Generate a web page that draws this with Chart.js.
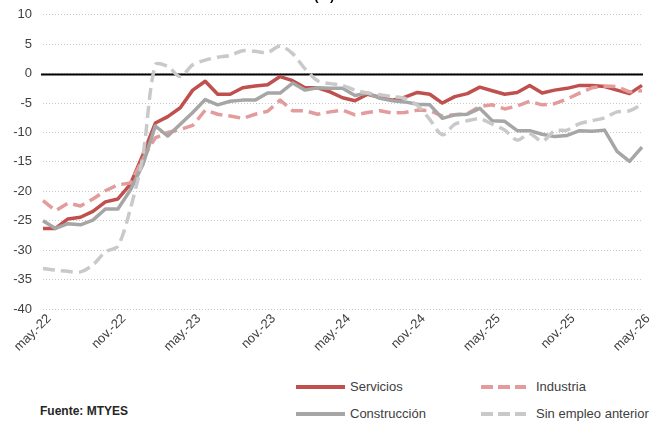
<!DOCTYPE html>
<html><head><meta charset="utf-8">
<script src="https://cdn.jsdelivr.net/npm/chart.js@4"></script>
<style>
html,body{margin:0;padding:0;background:#fff;overflow:hidden;width:661px;height:423px;}
#wrap{position:relative;width:661px;height:423px;overflow:hidden;}
canvas{position:absolute;left:0;top:-4px;}
.t{position:absolute;font-family:"Liberation Sans",Arial,sans-serif;color:#404040;font-size:13px;line-height:16px;white-space:nowrap;}
.ln{position:absolute;height:4px;}
</style></head><body>
<div id="wrap">
<canvas id="c" width="661" height="364"></canvas>
<div class="t" style="left:187px;top:-12px;font-weight:bold;color:#000;">Variación interanual (%)</div>
<div class="ln" style="left:296px;top:385px;width:49px;background:#C0504D;"></div>
<div class="t" style="left:350px;top:379px;">Servicios</div>
<div class="ln" style="left:481px;top:385px;width:45px;background:repeating-linear-gradient(to right,#E39B9B 0 12px,transparent 12px 17px);"></div>
<div class="t" style="left:536px;top:379px;">Industria</div>
<div class="ln" style="left:296px;top:412px;width:49px;background:#A6A6A6;"></div>
<div class="t" style="left:350px;top:406px;">Construcción</div>
<div class="ln" style="left:481px;top:412px;width:45px;background:repeating-linear-gradient(to right,#C9C9C9 0 12px,transparent 12px 17px);"></div>
<div class="t" style="left:536px;top:406px;">Sin empleo anterior</div>
<div class="t" style="left:40px;top:403px;font-weight:bold;font-size:12px;color:#262626;">Fuente: MTYES</div>
</div>
<script>
const months = ["may.-22","jun.-22","jul.-22","ago.-22","sep.-22","oct.-22","nov.-22","dic.-22",
"ene.-23","feb.-23","mar.-23","abr.-23","may.-23","jun.-23","jul.-23","ago.-23","sep.-23","oct.-23","nov.-23","dic.-23",
"ene.-24","feb.-24","mar.-24","abr.-24","may.-24","jun.-24","jul.-24","ago.-24","sep.-24","oct.-24","nov.-24","dic.-24",
"ene.-25","feb.-25","mar.-25","abr.-25","may.-25","jun.-25","jul.-25","ago.-25","sep.-25","oct.-25","nov.-25","dic.-25",
"ene.-26","feb.-26","mar.-26","abr.-26","may.-26"];
const servicios = [-26.3,-26.3,-24.7,-24.4,-23.4,-21.8,-21.3,-18.8,-13.8,-8.4,-7.3,-5.8,-2.8,-1.3,-3.5,-3.5,-2.4,-2.1,-1.9,-0.5,-1.2,-2.4,-2.4,-3.1,-4.1,-4.6,-3.5,-4.0,-4.5,-4.0,-3.2,-3.5,-5.0,-3.9,-3.4,-2.3,-2.9,-3.5,-3.2,-2.0,-3.3,-2.8,-2.5,-2.0,-2.0,-2.2,-2.8,-3.4,-2.0];
const industria = [-21.6,-23.3,-22.0,-22.5,-21.3,-19.9,-18.9,-18.6,-14.5,-10.9,-10.0,-9.5,-8.8,-6.2,-6.9,-7.2,-7.6,-6.9,-6.4,-4.5,-6.3,-6.3,-6.9,-6.5,-6.2,-7.0,-6.6,-6.3,-6.7,-6.6,-6.2,-6.3,-7.2,-7.0,-6.8,-5.6,-5.3,-6.0,-5.5,-4.7,-5.3,-5.1,-4.3,-3.3,-2.4,-2.1,-2.2,-3.1,-2.9];
const construccion = [-25.0,-26.3,-25.5,-25.7,-24.9,-23.0,-23.0,-19.8,-15.5,-8.9,-10.6,-8.6,-6.6,-4.4,-5.3,-4.7,-4.5,-4.5,-3.3,-3.3,-1.6,-2.8,-2.4,-2.5,-2.5,-3.7,-3.3,-4.2,-4.6,-4.8,-5.2,-5.3,-7.6,-7.0,-6.9,-5.9,-8.0,-8.1,-9.7,-9.7,-10.3,-10.7,-10.5,-9.7,-9.8,-9.6,-13.2,-14.9,-12.5];
const sinEmpleo = [-33.1,-33.4,-33.6,-33.7,-32.5,-30.3,-29.3,-23.0,-14.0,1.5,1.2,-0.5,1.5,2.3,2.8,3.1,3.9,3.8,3.6,4.7,3.4,0.8,-1.2,-1.7,-2.0,-2.8,-3.3,-3.6,-3.9,-4.2,-5.4,-7.8,-10.4,-8.6,-8.0,-7.7,-8.6,-9.6,-11.3,-10.2,-11.5,-9.7,-9.6,-8.5,-8.0,-7.5,-6.5,-6.3,-5.2];
const yTicks = {min:-40, max:10, step:5};

const FONT = '"Liberation Sans", Arial, sans-serif';
const zeroLine = {
  id:'zeroLine',
  beforeDatasetsDraw(chart){
    const {ctx, chartArea, scales:{y}} = chart;
    const py = Math.round(y.getPixelForValue(0)) + 0.5;
    ctx.save();
    ctx.strokeStyle = '#000'; ctx.lineWidth = 2;
    ctx.beginPath(); ctx.moveTo(chartArea.left - 2, py); ctx.lineTo(chartArea.right + 1, py); ctx.stroke();
    ctx.restore();
  }
};
new Chart(document.getElementById('c'), {
  type:'line',
  data:{labels:months, datasets:[
    {label:'Servicios', data:servicios, borderColor:'#C0504D', order:3, tension:0},
    {label:'Industria', data:industria, borderColor:'#E39B9B', borderDash:[12,6], order:2, tension:0},
    {label:'Construcción', data:construccion, borderColor:'#A6A6A6', order:1, tension:0},
    {label:'Sin empleo anterior', data:sinEmpleo, borderColor:'#C9C9C9', borderDash:[12,6], order:0, tension:0.3}
  ]},
  options:{
    responsive:false, animation:false, devicePixelRatio:1,
    layout:{padding:{top:9.2, right:19, left:0, bottom:0}},
    plugins:{legend:{display:false}, tooltip:{enabled:false}, title:{display:false}},
    elements:{point:{radius:0}, line:{borderWidth:3.5, borderCapStyle:'butt', borderJoinStyle:'round', fill:false}},
    scales:{
      x:{type:'category', offset:false, grid:{display:false, drawTicks:false}, border:{display:false},
        ticks:{autoSkip:false, maxRotation:45, minRotation:45, padding:2, labelOffset:6, color:'#404040', font:{family:FONT, size:13},
          callback:(v,i)=> i%6===0 ? months[i] : ''},
        afterFit(s){ s.height = 364 - 313; }},
      y:{min:yTicks.min, max:yTicks.max,
        ticks:{stepSize:yTicks.step, padding:11, color:'#404040', font:{family:FONT, size:13}},
        grid:{color:'#C8C8C8', lineWidth:1, drawTicks:false}, border:{display:false, dash:[1,2]},
        afterFit(s){ s.width = 43; }}
    }
  },
  plugins:[zeroLine]
});
</script>
</body></html>
